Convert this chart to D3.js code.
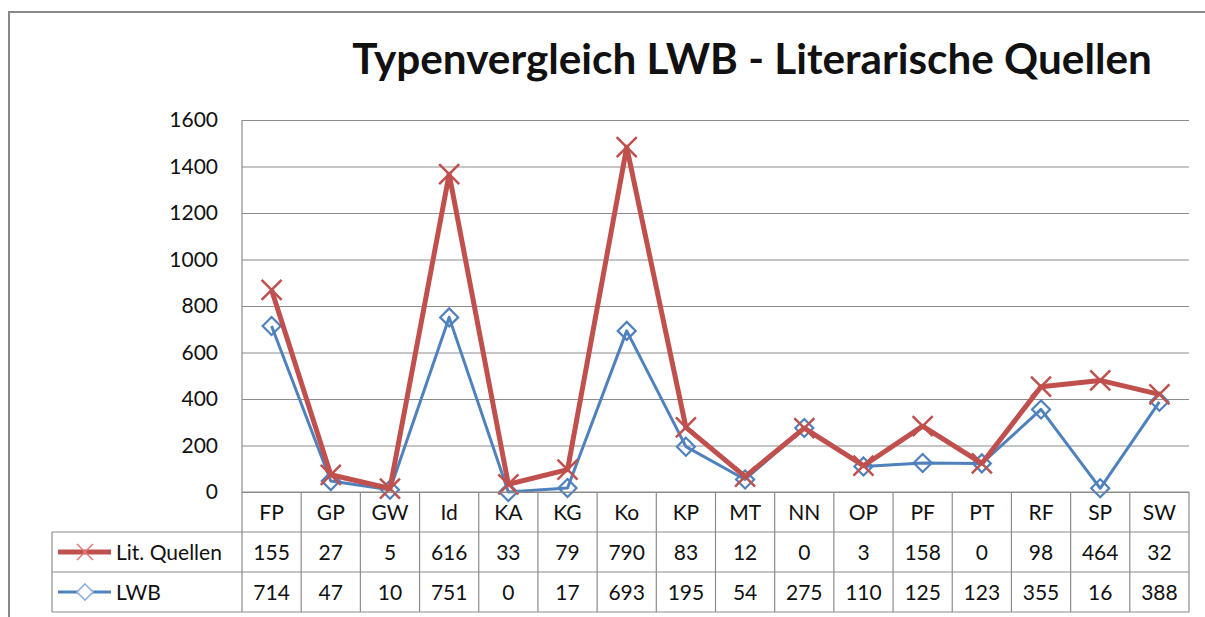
<!doctype html>
<html lang="de">
<head>
<meta charset="UTF-8">
<title>Typenvergleich LWB - Literarische Quellen</title>
<style>
  body { margin: 0; background: #fff; }
  svg text { font-family: Lato, "Open Sans", sans-serif; fill: #111; }
</style>
</head>
<body>
<svg width="1205" height="617"></svg>
<script src="https://d3js.org/d3.v7.min.js"></script>
<script>
const categories = ['FP','GP','GW','Id','KA','KG','Ko','KP','MT','NN','OP','PF','PT','RF','SP','SW'];
const litQuellen = [155, 27, 5, 616, 33, 79, 790, 83, 12, 0, 3, 158, 0, 98, 464, 32];
const lwb = [714, 47, 10, 751, 0, 17, 693, 195, 54, 275, 110, 125, 123, 355, 16, 388];
const yTicks = [0, 200, 400, 600, 800, 1000, 1200, 1400, 1600];
const title = 'Typenvergleich LWB - Literarische Quellen';

const red = '#C0504D', blue = '#4F81BD', gridCol = '#8c8c8c';
const plotL = 242, plotR = 1189, plotT = 120, plotB = 492;
const rowH = 40, tableLeft = 52;

const svg = d3.select('svg');

// chart frame (cut at right/bottom)
svg.append('path')
    .attr('d', 'M9,617 V12 H1205')
    .attr('fill', 'none').attr('stroke', '#888').attr('stroke-width', 2);

const x = d3.scaleBand().domain(categories).range([plotL, plotR]).padding(0);
const y = d3.scaleLinear().domain([0, 1600]).range([plotB, plotT]);
const cx = c => x(c) + x.bandwidth() / 2;

// title
const t = svg.append('text')
    .attr('x', 752).attr('y', 74)
    .attr('text-anchor', 'middle')
    .style('font-weight', 'bold').style('font-size', '38px')
    .text(title);
const w = t.node().getComputedTextLength();
t.style('font-size', (38 * 800 / w) + 'px');

// gridlines + y axis
const yAxis = d3.axisLeft(y).tickValues(yTicks).tickFormat(d3.format('d'))
    .tickSize(-(plotR - plotL)).tickPadding(24);
const ga = svg.append('g').attr('transform', `translate(${plotL},0)`).call(yAxis);
ga.select('.domain').remove();
ga.selectAll('.tick line').attr('stroke', gridCol).attr('stroke-width', 1.2);
ga.selectAll('.tick text').style('font-size', '21px').attr('fill', '#111');

// stacked series (Excel stacked line)
const stacked = lwb.map((v, i) => v + litQuellen[i]);

const line = d3.line().x((d, i) => cx(categories[i])).y(d => y(d));

svg.append('path').datum(lwb)
    .attr('d', line).attr('fill', 'none')
    .attr('stroke', blue).attr('stroke-width', 3).attr('stroke-linejoin', 'round');

const diamond = (g, s) => g.append('path')
    .attr('d', `M0,${-s} L${s},0 L0,${s} L${-s},0 Z`)
    .attr('fill', 'none').attr('stroke', blue).attr('stroke-width', 2.2);

svg.append('g').selectAll('g').data(lwb).join('g')
    .attr('transform', (d, i) => `translate(${cx(categories[i])},${y(d)})`)
    .each(function() { diamond(d3.select(this), 9); });

svg.append('path').datum(stacked)
    .attr('d', line).attr('fill', 'none')
    .attr('stroke', red).attr('stroke-width', 5).attr('stroke-linejoin', 'round');

const cross = (g, s, sw) => g.append('path')
    .attr('d', `M${-s},${-s} L${s},${s} M${-s},${s} L${s},${-s}`)
    .attr('stroke', red).attr('stroke-width', sw);

svg.append('g').selectAll('g').data(stacked).join('g')
    .attr('transform', (d, i) => `translate(${cx(categories[i])},${y(d)})`)
    .each(function() { cross(d3.select(this), 10, 2.5); });

// data table
const tbl = svg.append('g').attr('stroke', gridCol).attr('stroke-width', 1.2);
tbl.append('line').attr('x1', plotL).attr('x2', plotL).attr('y1', plotT).attr('y2', plotB + 3 * rowH);
tbl.append('line').attr('x1', plotL).attr('x2', plotR).attr('y1', plotB).attr('y2', plotB);
[1, 2, 3].forEach(r => tbl.append('line')
    .attr('x1', tableLeft).attr('x2', plotR)
    .attr('y1', plotB + r * rowH).attr('y2', plotB + r * rowH));
tbl.append('line').attr('x1', tableLeft).attr('x2', tableLeft)
    .attr('y1', plotB + rowH).attr('y2', plotB + 3 * rowH);
categories.forEach(c => tbl.append('line')
    .attr('x1', x(c) + x.bandwidth()).attr('x2', x(c) + x.bandwidth())
    .attr('y1', plotB).attr('y2', plotB + 3 * rowH));

const rows = [categories, litQuellen, lwb];
rows.forEach((r, ri) => {
    svg.append('g').selectAll('text').data(r).join('text')
        .attr('x', (d, i) => cx(categories[i]))
        .attr('y', plotB + ri * rowH + rowH / 2)
        .attr('dy', '0.36em')
        .attr('text-anchor', 'middle')
        .style('font-size', '21px')
        .text(d => d);
});

// legend keys in table
const legend = [
    { name: 'Lit. Quellen', color: red, sw: 5, mark: 'x' },
    { name: 'LWB', color: blue, sw: 3, mark: 'd' }
];
legend.forEach((l, i) => {
    const yy = plotB + (i + 1) * rowH + rowH / 2;
    svg.append('line').attr('x1', 58).attr('x2', 111).attr('y1', yy).attr('y2', yy)
        .attr('stroke', l.color).attr('stroke-width', l.sw);
    const g = svg.append('g').attr('transform', `translate(85,${yy})`);
    if (l.mark === 'x') {
        g.append('path').attr('d', 'M-8,-8 L8,8 M-8,8 L8,-8')
            .attr('stroke', '#e07b78').attr('stroke-width', 1.6);
    } else {
        g.append('path').attr('d', 'M0,-8 L8,0 L0,8 L-8,0 Z')
            .attr('fill', '#fff').attr('stroke', '#8fb0dc').attr('stroke-width', 1.6);
    }
    svg.append('text').attr('x', 116).attr('y', yy).attr('dy', '0.36em')
        .style('font-size', '21px').text(l.name);
});
</script>
</body>
</html>
